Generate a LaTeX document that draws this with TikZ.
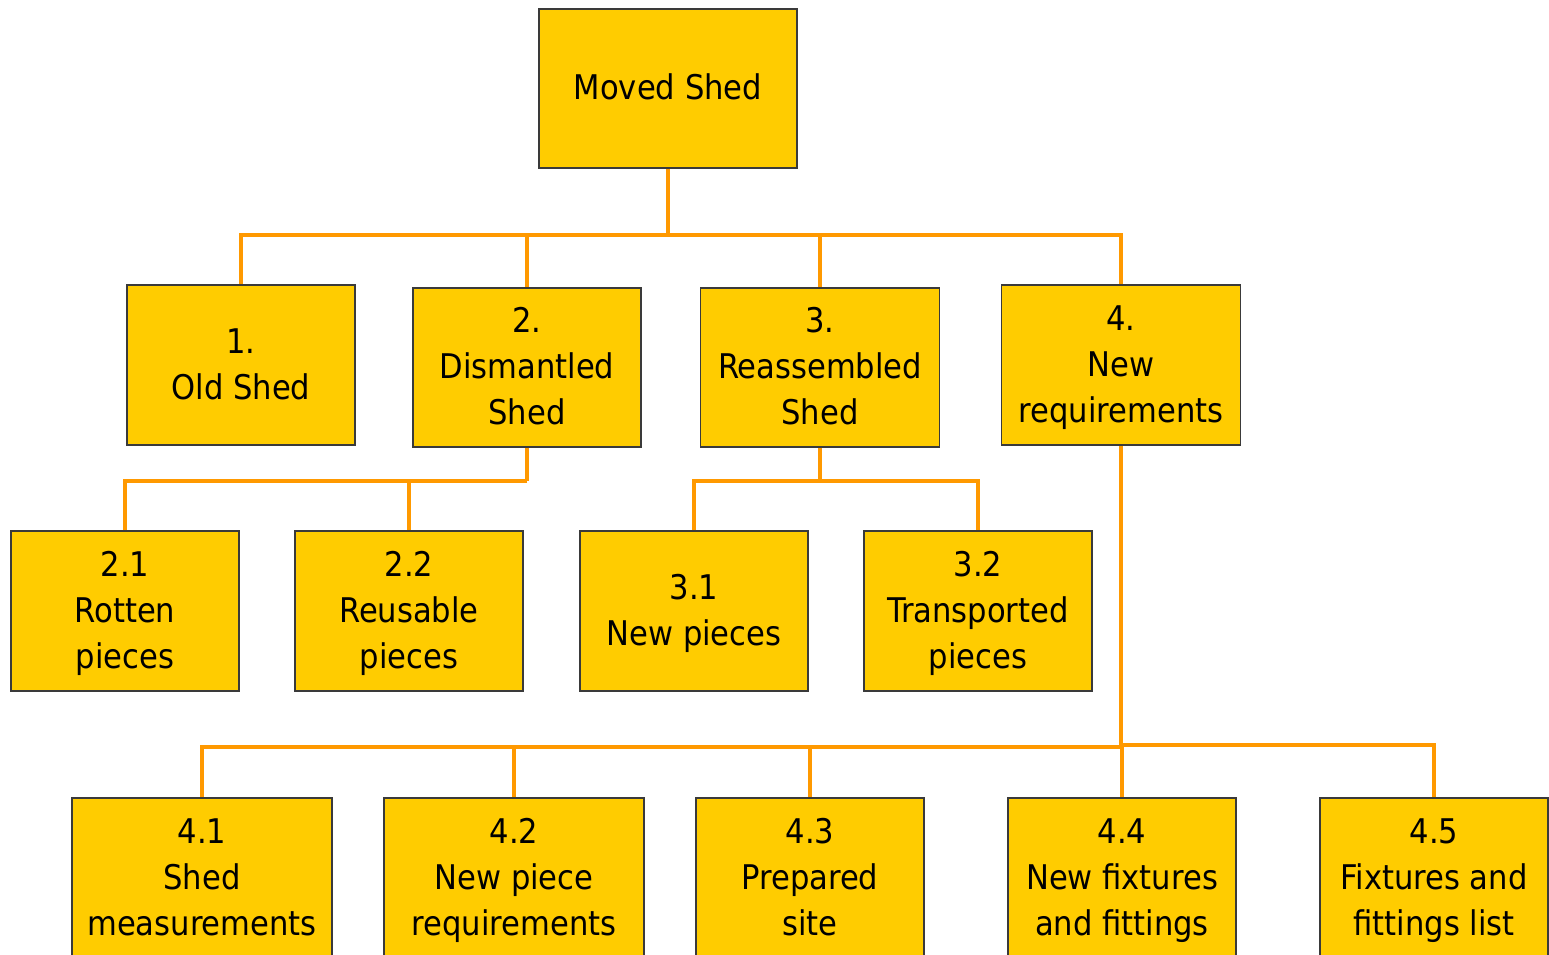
\documentclass[tikz,border=0pt]{standalone}
\usepackage{fontspec}
\setmainfont{DejaVu Sans Condensed}
\definecolor{boxfill}{HTML}{FFCC00}
\definecolor{linkorange}{HTML}{FF9900}
\definecolor{boxline}{HTML}{3A3A3A}
% box caption: lines 46pt apart, block set slightly low in its box
\newcommand{\boxtext}[1]{\begin{tabular}{@{}c@{}}\rule{0pt}{36.5pt}#1\rule[-13.8pt]{0pt}{0pt}\end{tabular}}
\begin{document}
\begin{tikzpicture}[x=1pt,y=-1pt,
  box/.style={draw=boxline, line width=1.5pt, fill=boxfill,
    inner sep=0pt, minimum width=228pt, minimum height=159pt,
    font=\fontsize{34}{46}\selectfont},
  widebox/.style={box, minimum width=260pt},
  link/.style={draw=linkorange, line width=3.2pt}]
\useasboundingbox (0,0) rectangle (1549,955);
\clip (0,0) rectangle (1549,955);
\renewcommand{\arraystretch}{1}

% bus junctions
\coordinate (bus1) at (668,235);
\coordinate (bus2) at (527,481);
\coordinate (bus3) at (820,481);
\coordinate (bus4) at (1121,747);
\coordinate (bus4r) at (1121,745);

% top level
\node[box, minimum width=258pt] (root) at (668,88.5) {\boxtext{Moved Shed}};

% second level
\node[box, minimum height=160pt] (n1) at (241,365) {\boxtext{1.\\Old Shed}};
\node[box] (n2) at (527,367.5) {\boxtext{2.\\Dismantled\\Shed}};
\node[box, minimum width=239pt] (n3) at (820,367.5) {\boxtext{3.\\Reassembled\\Shed}};
\node[box, minimum width=239pt, minimum height=160pt] (n4) at (1121,365) {\boxtext{4.\\New\\requirements}};

% third level
\node[box, minimum height=160pt] (n21) at (125,611) {\boxtext{2.1\\Rotten\\pieces}};
\node[box, minimum height=160pt] (n22) at (409,611) {\boxtext{2.2\\Reusable\\pieces}};
\node[box, minimum height=160pt] (n31) at (694,611) {\boxtext{3.1\\New pieces}};
\node[box, minimum height=160pt] (n32) at (978,611) {\boxtext{3.2\\Transported\\pieces}};

% fourth level
\node[widebox, minimum height=160pt] (n41) at (202,878) {\boxtext{4.1\\Shed\\measurements}};
\node[widebox, minimum height=160pt] (n42) at (514,878) {\boxtext{4.2\\New piece\\requirements}};
\node[box, minimum height=160pt] (n43) at (810,878) {\boxtext{4.3\\Prepared\\site}};
\node[box, minimum height=160pt] (n44) at (1122,878) {\boxtext{4.4\\New fixtures\\and fittings}};
\node[box, minimum height=160pt] (n45) at (1434,878) {\boxtext{4.5\\Fixtures and\\fittings list}};

% connectors
\draw[link] (root.south) -- (bus1);
\draw[link] (bus1) -| (n1.north);
\draw[link] (bus1) -| (n2.north);
\draw[link] (bus1) -| (n3.north);
\draw[link] (bus1) -| (n4.north);

\draw[link] (n2.south) -- (bus2);
\draw[link] (bus2) -| (n21.north);
\draw[link] (bus2) -| (n22.north);

\draw[link] (n3.south) -- (bus3);
\draw[link] (bus3) -| (n31.north);
\draw[link] (bus3) -| (n32.north);

\draw[link] (n4.south) -- (bus4);
\draw[link] (bus4) -| (n41.north);
\draw[link] (bus4) -| (n42.north);
\draw[link] (bus4) -| (n43.north);
\draw[link] (bus4) -| (n44.north);
\draw[link] (bus4r) -| (n45.north);
\end{tikzpicture}
\end{document}
